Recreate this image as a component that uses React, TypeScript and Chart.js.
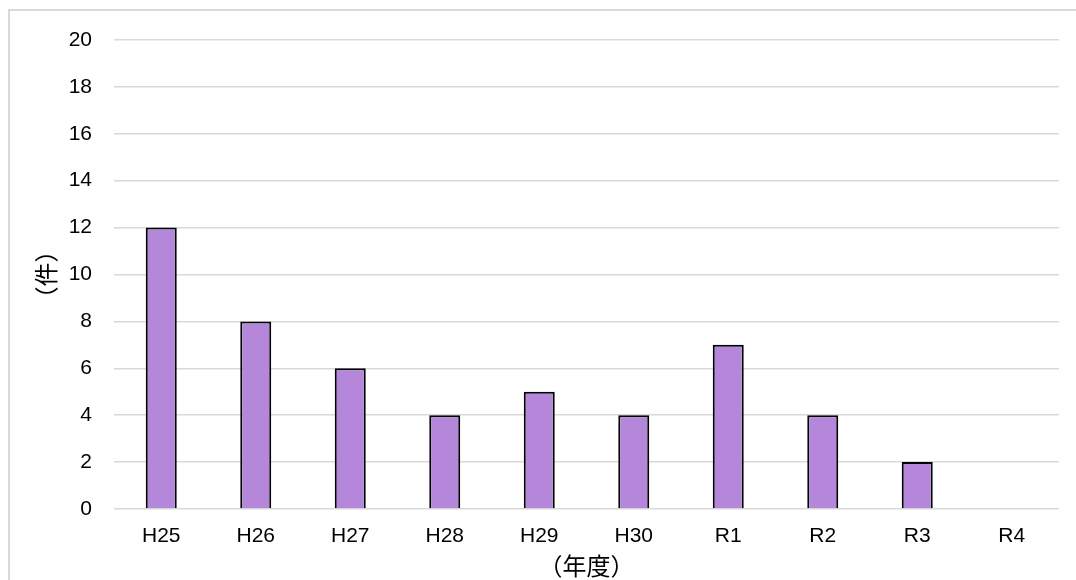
import React, { useEffect, useRef } from "react";
import { Chart, registerables } from "chart.js";

Chart.register(...registerables);

const categories = ["H25", "H26", "H27", "H28", "H29", "H30", "R1", "R2", "R3", "R4"];
const counts = [12, 8, 6, 4, 5, 4, 7, 4, 2, 0];
const yTitle = "（件）";
const xTitle = "（年度）";

const LATIN = "'Liberation Sans', Arial, 'Noto Sans CJK JP', sans-serif";
const CJK = "'Noto Sans CJK JP', sans-serif";

const frame = {
  id: "frame",
  beforeDraw(chart: any) {
    const ctx = chart.ctx;
    ctx.save();
    ctx.strokeStyle = "#d9d9d9";
    ctx.lineWidth = 2;
    ctx.beginPath();
    ctx.moveTo(9, chart.height);
    ctx.lineTo(9, 10);
    ctx.lineTo(chart.width, 10);
    ctx.stroke();
    ctx.restore();
  },
};

export default function App() {
  const ref = useRef<HTMLCanvasElement>(null);
  useEffect(() => {
    if (!ref.current) return;
    const chart = new Chart(ref.current, {
      type: "bar",
      data: {
        labels: categories,
        datasets: [
          {
            data: counts,
            backgroundColor: "#b587da",
            borderColor: "#000000",
            borderWidth: 2,
            categoryPercentage: 1,
            barPercentage: 0.328,
          },
        ],
      },
      options: {
        animation: false,
        responsive: true,
        maintainAspectRatio: false,
        layout: { padding: { left: 27, top: 40, right: 17, bottom: 0 } },
        plugins: { legend: { display: false }, tooltip: { enabled: false } },
        scales: {
          x: {
            grid: { display: false, drawTicks: false },
            border: { display: false },
            ticks: { color: "#000", font: { family: LATIN, size: 21 }, padding: 15 },
            title: {
              display: true,
              text: xTitle,
              color: "#000",
              font: { family: CJK, size: 24 },
              padding: { top: 0, bottom: 0 },
            },
            afterFit: (s: any) => {
              s.height = 71;
            },
          },
          y: {
            min: 0,
            max: 20,
            ticks: { stepSize: 2, color: "#000", font: { family: LATIN, size: 21 }, padding: 22 },
            grid: { color: "#d9d9d9", lineWidth: 1.5, drawTicks: false },
            border: { display: false },
            title: {
              display: true,
              text: yTitle,
              color: "#000",
              font: { family: CJK, size: 24 },
              padding: { top: 4, bottom: 4 },
            },
            afterFit: (s: any) => {
              s.width = 87;
            },
          },
        },
      },
      plugins: [frame],
    });
    return () => chart.destroy();
  }, []);
  return (
    <div style={{ position: "absolute", left: 0, top: 0, width: 1076, height: 580, background: "#fff" }}>
      <canvas ref={ref} />
    </div>
  );
}
